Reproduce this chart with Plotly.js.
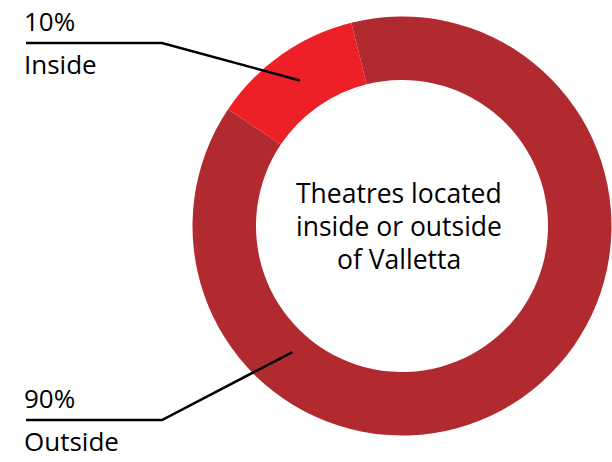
<!DOCTYPE html>
<html><head><meta charset="utf-8">
<script src="https://cdn.plot.ly/plotly-3.0.1.min.js"></script>
<style>html,body{margin:0;padding:0;background:#fff}#chart{width:612px;height:462px}</style>
</head><body><div id="chart"></div>
<script>
const categories = ["Outside", "Inside"];
const shares = [88.3, 11.7];
const pctLabels = ["90%", "10%"];
const centerTitleLines = ["Theatres located", "inside or outside", "of Valletta"];
const colors = ["#B02A2F", "#ED1F27"];

const W = 612, H = 462;
const cx = 402, cy = 226, R = 209.5, hole = 0.697;
const rotation = -14;
const FONT = "'Open Sans', Lato, sans-serif";

const px = x => x / W;
const py = y => 1 - y / H;
function polar(angDeg, r) {
  const a = angDeg * Math.PI / 180;
  return [cx + r * Math.sin(a), cy - r * Math.cos(a)];
}
const total = shares.reduce((a, b) => a + b, 0);
const insideMid = rotation + 360 * (shares[0] + shares[1] / 2) / total;
const midR = R * (1 + hole) / 2;
const endInside = polar(insideMid, midR);
const endOutside = polar(221, 167);

const labelBlocks = [
  {pct: pctLabels[1], name: categories[1], lineY: 43, end: endInside},
  {pct: pctLabels[0], name: categories[0], lineY: 420, end: endOutside}
];

const shapes = [], annotations = [];
labelBlocks.forEach(b => {
  shapes.push({type: 'path', xref: 'paper', yref: 'paper',
    path: `M ${px(26)},${py(b.lineY)} L ${px(162)},${py(b.lineY)} L ${px(b.end[0])},${py(b.end[1])}`,
    line: {color: '#000', width: 2.5}});
  annotations.push({xref: 'paper', yref: 'paper', x: px(22), y: py(b.lineY - 22), xanchor: 'left', yanchor: 'middle',
    text: b.pct, showarrow: false, font: {family: FONT, size: 26, color: '#000'}});
  annotations.push({xref: 'paper', yref: 'paper', x: px(22), y: py(b.lineY + 21), xanchor: 'left', yanchor: 'middle',
    text: b.name, showarrow: false, font: {family: FONT, size: 26, color: '#000'}});
});
centerTitleLines.forEach((t, i) => {
  annotations.push({xref: 'paper', yref: 'paper', x: px(cx - 3), y: py(cy + (i - 1) * 33.3), xanchor: 'center', yanchor: 'middle',
    text: t, showarrow: false, font: {family: FONT, size: 26.5, color: '#000'}});
});

const trace = {
  type: 'pie', labels: categories, values: shares, hole: hole, sort: false,
  direction: 'clockwise', rotation: rotation, textinfo: 'none', hoverinfo: 'label+percent',
  marker: {colors: colors, line: {width: 0}},
  domain: {x: [px(cx - R), px(cx + R)], y: [py(cy + R), py(cy - R)]}
};

Plotly.newPlot('chart', [trace], {
  width: W, height: H, margin: {l: 0, r: 0, t: 0, b: 0},
  paper_bgcolor: '#fff', showlegend: false, shapes: shapes, annotations: annotations
}, {displayModeBar: false, staticPlot: true});
</script></body></html>
